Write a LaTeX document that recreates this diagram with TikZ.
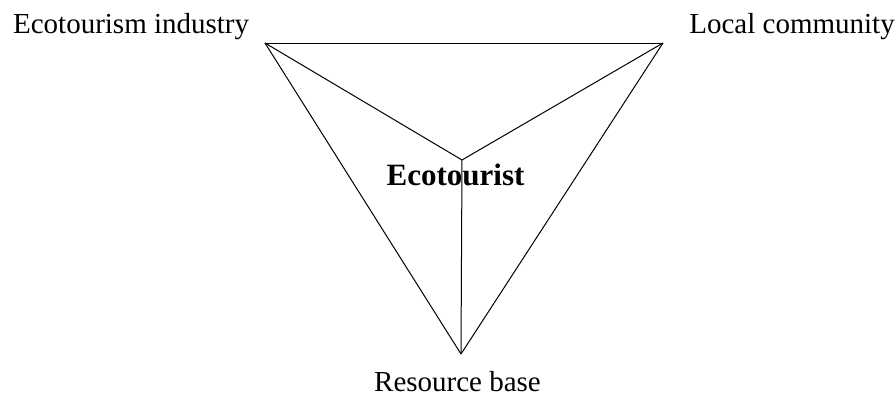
\documentclass[tikz,border=0pt]{standalone}
\usepackage{fontspec}
\setmainfont{Liberation Serif}
\begin{document}
\begin{tikzpicture}[x=0.5pt,y=-0.5pt]
		\tikzset{vertex/.style = {shape=coordinate}}
		\tikzset{lab/.style = {inner sep=0pt, font=\fontsize{14.5}{17}\selectfont}}

		\useasboundingbox (0,0) rectangle (896,396);

		\node[vertex] (I) at (265,43) {};
		\node[vertex] (C) at (663,43) {};
		\node[vertex] (R) at (461,354) {};
		\node[vertex] (E) at (462,160) {};

		\node[lab, anchor=base west] (Ilab) at (12.7,33) {Ecotourism industry};
		\node[lab, anchor=base west] (Clab) at (689,33) {Local community};
		\node[lab, anchor=base] (Rlab) at (457.5,391) {Resource base};
		\node[lab, anchor=base, font=\fontsize{15.5}{18}\selectfont\bfseries] (Elab) at (455.5,185) {Ecotourist};

		\draw[line width=0.5pt] (I)--(C);
		\draw[line width=0.5pt] (C)--(R);
		\draw[line width=0.5pt] (R)--(I);
		\draw[line width=0.5pt] (I)--(E);
		\draw[line width=0.5pt] (C)--(E);
		\draw[line width=0.5pt] (E)--(R);

	\end{tikzpicture}
\end{document}
